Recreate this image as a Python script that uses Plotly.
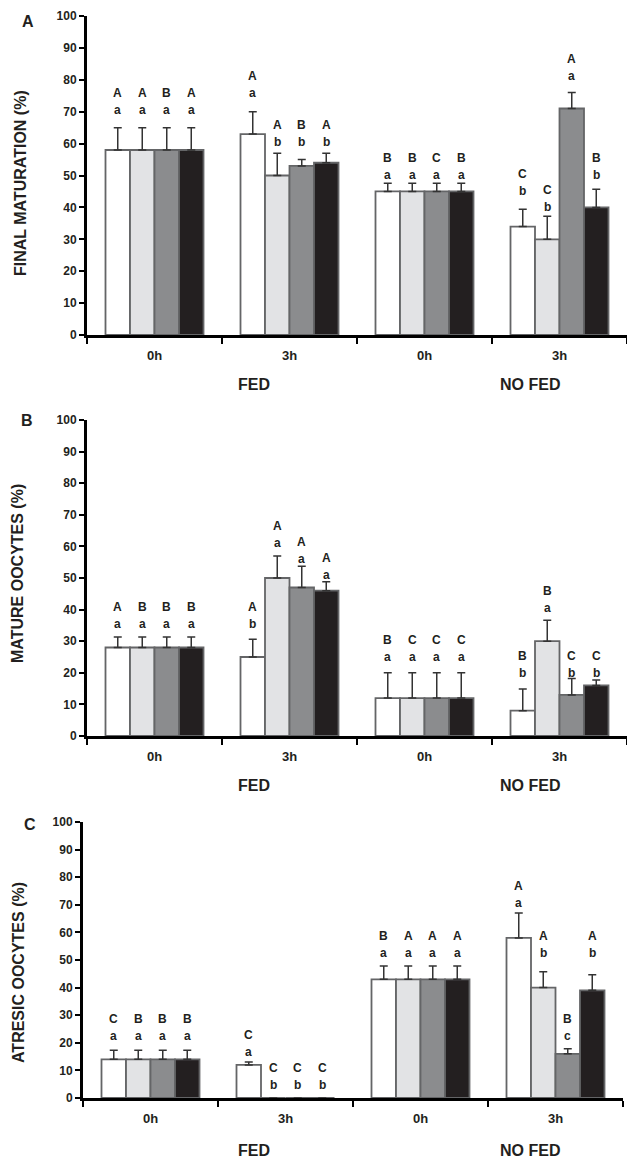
import plotly.graph_objects as go

# ---------------- data ----------------
categories = ["0h", "3h", "0h", "3h"]          # FED 0h, FED 3h, NO FED 0h, NO FED 3h
groups = ["FED", "NO FED"]
panel_letters = ["A", "B", "C"]
panel_titles = ["FINAL MATURATION (%)", "MATURE OOCYTES (%)", "ATRESIC OOCYTES (%)"]
series_names = ["T1", "T2", "T3", "T4"]
series_colors = ["#ffffff", "#e2e3e5", "#8b8c8e", "#231f20"]

# values[series][category]
A_values = [[58, 63, 45, 34], [58, 50, 45, 30], [58, 53, 45, 71], [58, 54, 45, 40]]
A_err = [[7, 7, 2.6, 5.4], [7, 7, 2.6, 7.2], [7, 2, 2.6, 5], [7, 3, 2.6, 5.7]]
B_values = [[28, 25, 12, 8], [28, 50, 12, 30], [28, 47, 12, 13], [28, 46, 12, 16]]
B_err = [[3.3, 5.6, 8, 6.9], [3.3, 7, 8, 6.6], [3.3, 6.7, 8, 5.2], [3.3, 2.8, 8, 1.7]]
C_values = [[14, 12, 43, 58], [14, 0, 43, 40], [14, 0, 43, 16], [14, 0, 43, 39]]
C_err = [[3.3, 1, 4.8, 9], [3.3, 0, 4.8, 5.7], [3.3, 0, 4.8, 1.8], [3.3, 0, 4.8, 5.7]]

# significance letters [series][category]
A_upper = [["A", "A", "B", "C"], ["A", "A", "B", "C"], ["B", "B", "C", "A"], ["A", "A", "B", "B"]]
A_lower = [["a", "a", "a", "b"], ["a", "b", "a", "b"], ["a", "b", "a", "a"], ["a", "b", "a", "b"]]
B_upper = [["A", "A", "B", "B"], ["B", "A", "C", "B"], ["B", "A", "C", "C"], ["B", "A", "C", "C"]]
B_lower = [["a", "b", "a", "b"], ["a", "a", "a", "a"], ["a", "a", "a", "b"], ["a", "a", "a", "b"]]
C_upper = [["C", "C", "B", "A"], ["B", "C", "A", "A"], ["B", "C", "A", "B"], ["B", "C", "A", "A"]]
C_lower = [["a", "a", "a", "a"], ["a", "b", "a", "b"], ["a", "b", "a", "c"], ["a", "b", "a", "b"]]
# height (data units) of the lower letter of each label pair
A_label_y = [[70.5, 75.9, 50.2, 45.1], [70.5, 60.5, 50.2, 40.1], [70.5, 60.5, 50.2, 81.2], [70.5, 60.5, 50.2, 50.2]]
B_label_y = [[35.4, 35.4, 25, 19.9], [35.4, 61.1, 25, 40.5], [35.4, 56, 25, 19.9], [35.4, 50.9, 25, 19.9]]
C_label_y = [[22.5, 16.7, 52.5, 70.7], [22.5, 4.7, 52.5, 52.5], [22.5, 4.7, 52.5, 22.5], [22.5, 4.7, 52.5, 52.5]]

panels = [
    (A_values, A_err, A_upper, A_lower, A_label_y),
    (B_values, B_err, B_upper, B_lower, B_label_y),
    (C_values, C_err, C_upper, C_lower, C_label_y),
]

# ---------------- layout geometry (pixels) ----------------
W, H = 627, 1160
FONT = "Liberation Sans"
TXT = "#231f20"
BARGAP = 0.274
# (left, right, top, bottom) of each plot area in pixels
boxes = [(87, 627, 16, 335), (87, 627, 420, 736), (83, 623, 822, 1098)]
title_pos = [(20, 183), (18, 574), (18, 973)]
letter_pos = [(28, 21), (27, 421), (30, 824)]
group_label_y = [385, 785, 1150]
group_label_x = [254, 530]


def px(x):
    return x / W


def py(y):
    return 1 - y / H


fig = go.Figure()
annotations = []
layout = {}

xs = list(range(len(categories)))
bw = (1 - BARGAP) / len(series_names)


def paper_text(x, y, text, size, angle=0):
    return dict(x=px(x), y=py(y), xref="paper", yref="paper", text=text, textangle=angle,
                xanchor="center", yanchor="middle", showarrow=False,
                font=dict(family=FONT, size=size, color=TXT, weight="bold"))


for p, (vals, errs, up, low, laby) in enumerate(panels):
    xa = "x" if p == 0 else f"x{p+1}"
    ya = "y" if p == 0 else f"y{p+1}"
    for j, name in enumerate(series_names):
        fig.add_trace(go.Bar(
            x=xs, y=vals[j], name=name, showlegend=False,
            xaxis=xa, yaxis=ya,
            marker=dict(color=series_colors[j], line=dict(color="#646567", width=1.8)),
            error_y=dict(type="data", symmetric=False, array=errs[j],
                         arrayminus=[0] * len(xs), color="#333333",
                         thickness=1.5, width=4),
        ))
        for c in xs:
            bx = c + (j - 1.5) * bw
            annotations.append(dict(x=bx, y=laby[j][c], xref=xa, yref=ya, text=low[j][c],
                                    xanchor="center", yanchor="middle", showarrow=False,
                                    font=dict(family=FONT, size=12, color=TXT, weight="bold")))
            annotations.append(dict(x=bx, y=laby[j][c], xref=xa, yref=ya, text=up[j][c], yshift=17,
                                    xanchor="center", yanchor="middle", showarrow=False,
                                    font=dict(family=FONT, size=12, color=TXT, weight="bold")))
    l, r, t, b = boxes[p]
    axis_x = dict(domain=[px(l), px(r)], range=[-0.5, 3.5], anchor=ya, automargin=False,
                  tickmode="array", tickvals=xs, ticktext=categories, ticks="",
                  ticklabelstandoff=6,
                  minor=dict(tickmode="linear", tick0=-0.5, dtick=1, ticks="outside",
                             ticklen=6, tickwidth=2, tickcolor="black"),
                  showline=True, linewidth=3, linecolor="black", showgrid=False, zeroline=False,
                  tickfont=dict(family=FONT, size=13, color=TXT, weight="bold"), fixedrange=True)
    axis_y = dict(domain=[py(b), py(t)], range=[0, 100], anchor=xa, automargin=False,
                  tickmode="linear", tick0=0, dtick=10, ticks="outside", ticklen=5, tickwidth=2,
                  tickcolor="black", showline=True, linewidth=3, linecolor="black",
                  showgrid=False, zeroline=False,
                  tickfont=dict(family=FONT, size=12, color=TXT, weight="bold"))
    layout["xaxis" if p == 0 else f"xaxis{p+1}"] = axis_x
    layout["yaxis" if p == 0 else f"yaxis{p+1}"] = axis_y

    tx, ty = title_pos[p]
    annotations.append(paper_text(tx, ty, panel_titles[p], 16, angle=-90))
    lx, ly = letter_pos[p]
    annotations.append(paper_text(lx, ly, panel_letters[p], 16))
    for g, gname in enumerate(groups):
        annotations.append(paper_text(group_label_x[g], group_label_y[p], gname, 16))

fig.update_layout(
    width=W, height=H, margin=dict(l=0, r=0, t=0, b=0),
    paper_bgcolor="white", plot_bgcolor="white",
    barmode="group", bargap=BARGAP, bargroupgap=0,
    annotations=annotations, **layout,
)

fig.write_html("out.html", config={"displayModeBar": False},
               post_script="document.body.style.margin='0';document.body.style.overflow='hidden';")
